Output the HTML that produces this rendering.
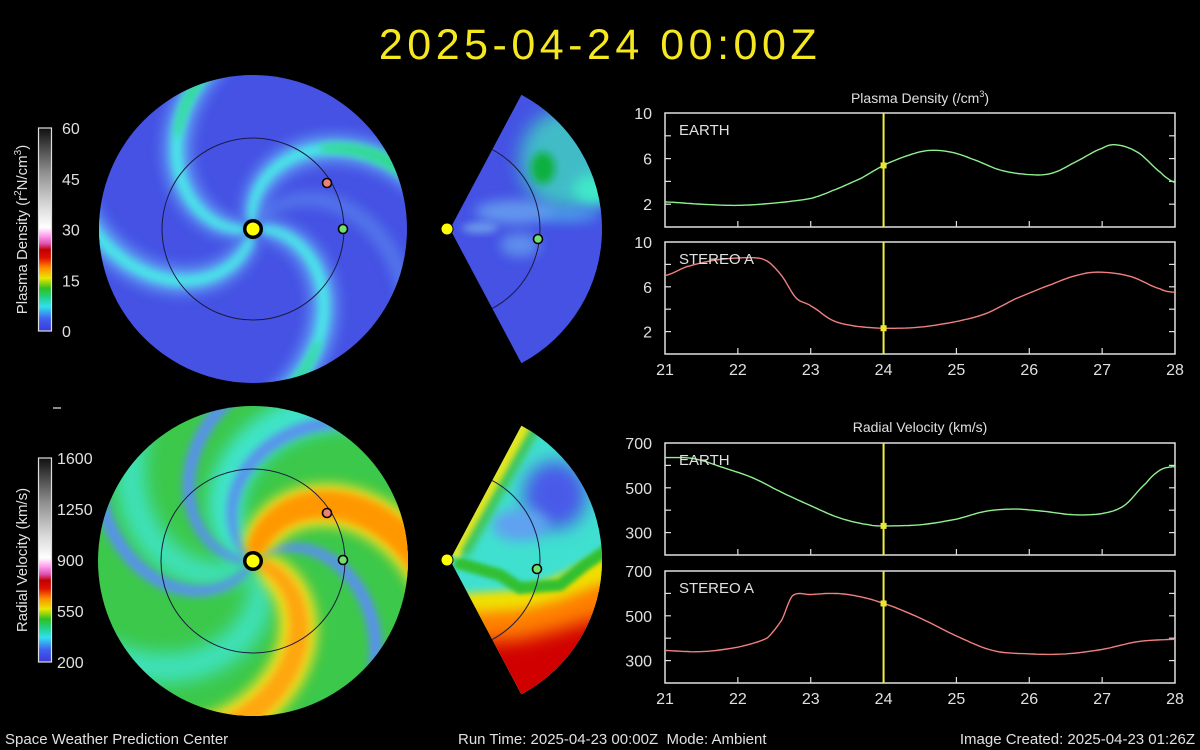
<!DOCTYPE html>
<html><head><meta charset="utf-8">
<style>
html,body{margin:0;padding:0;background:#000;}
body{width:1200px;height:750px;overflow:hidden;position:relative;font-family:"Liberation Sans",sans-serif;}
svg{position:absolute;left:0;top:0;}
</style></head>
<body>
<svg id="s" width="1200" height="750" viewBox="0 0 1200 750">
<defs>
<filter id="b2" x="-50%" y="-50%" width="200%" height="200%"><feGaussianBlur stdDeviation="2"/></filter>
<filter id="b4" x="-50%" y="-50%" width="200%" height="200%"><feGaussianBlur stdDeviation="4"/></filter>
<filter id="b6" x="-50%" y="-50%" width="200%" height="200%"><feGaussianBlur stdDeviation="6"/></filter>
<filter id="b9" x="-50%" y="-50%" width="200%" height="200%"><feGaussianBlur stdDeviation="9"/></filter>
<clipPath id="cD"><circle cx="253" cy="229" r="154"/></clipPath>
<clipPath id="cV"><circle cx="253" cy="561" r="155"/></clipPath>
<clipPath id="wD"><path id="wDp" d=""/></clipPath>
<clipPath id="wV"><path id="wVp" d=""/></clipPath>
<linearGradient id="cb" x1="0" y1="1" x2="0" y2="0">
<stop offset="0" stop-color="#3a3ad8"/><stop offset="0.06" stop-color="#4060f0"/>
<stop offset="0.12" stop-color="#30e0f0"/><stop offset="0.17" stop-color="#20d080"/>
<stop offset="0.21" stop-color="#30c020"/><stop offset="0.26" stop-color="#e8e800"/>
<stop offset="0.31" stop-color="#ff9000"/><stop offset="0.36" stop-color="#e01000"/>
<stop offset="0.40" stop-color="#c00000"/><stop offset="0.43" stop-color="#e050b0"/>
<stop offset="0.47" stop-color="#ffa0f0"/><stop offset="0.51" stop-color="#ffffff"/>
<stop offset="0.62" stop-color="#d8d8d8"/><stop offset="0.78" stop-color="#909090"/>
<stop offset="1" stop-color="#101010"/>
</linearGradient>
</defs>
<g id="g"></g>
</svg>
<script>
function P(cx,cy,r,d){const a=d*Math.PI/180;return [cx+r*Math.cos(a),cy+r*Math.sin(a)];}
function f(p){return p[0].toFixed(1)+','+p[1].toFixed(1);}
function arm(cx,cy,t0,k,r0,r1,w0,w1,fill,filt,op){
 let L=[],R=[];
 for(let r=r0;r<=r1;r+=3){const w=w0+(w1-w0)*(r-r0)/(r1-r0);const th=t0+k*r;let d=Math.min(w/2/r,0.7)*180/Math.PI;L.push(P(cx,cy,r,th-d));R.push(P(cx,cy,r,th+d));}
 return `<polygon points="${L.concat(R.reverse()).map(f).join(' ')}" fill="${fill}" filter="url(#${filt})" opacity="${op||1}"/>`;
}
function wedge(cx,cy,R,a0,a1){const p0=P(cx,cy,R,a0),p1=P(cx,cy,R,a1);return `M${cx},${cy} L${f(p0)} A${R},${R} 0 0 1 ${f(p1)} Z`;}
document.getElementById('wDp').setAttribute('d',wedge(450,229,152,-62,62));
document.getElementById('wVp').setAttribute('d',wedge(450,560,152,-62,62));
function dot(x,y,c,r){return `<circle cx="${x}" cy="${y}" r="${r||4.5}" fill="${c}" stroke="#000" stroke-width="1.6"/>`;}
function sun(x,y,big){return big?`<circle cx="${x}" cy="${y}" r="10" fill="#000"/><circle cx="${x}" cy="${y}" r="6.5" fill="#ffff00"/>`:`<circle cx="${x}" cy="${y}" r="6.5" fill="#000"/><circle cx="${x}" cy="${y}" r="5.5" fill="#ffff00"/>`;}
let h='';
h+=`<text x="600" y="59" text-anchor="middle" font-size="43" fill="#f5e820" letter-spacing="4.5" font-family="Liberation Sans, sans-serif">2025-04-24 00:00Z</text>`;
// density disk
let cx=253,cy=229;
h+=`<g clip-path="url(#cD)"><rect x="90" y="70" width="330" height="320" fill="#4552e4"/>`;
h+=arm(cx,cy,-60,0.5,10,175,10,30,'#5a86ee','b6',0.7);
for(const t of [-5,-102,171,100]){h+=arm(cx,cy,t,0.5,8,178,20,55,'#5c92f2','b6');}
for(const t of [-5,-102,171,100]){h+=arm(cx,cy,t,0.5,8,178,8,22,'#48e6e8','b4');}
h+=arm(cx,cy,-102,0.5,105,178,10,30,'#30d890','b4');
h+=arm(cx,cy,171,0.5,120,178,8,22,'#30d890','b4');
h+=arm(cx,cy,-5,0.5,130,178,8,20,'#30d890','b4');
h+=`</g><circle cx="${cx}" cy="${cy}" r="91" fill="none" stroke="#1a1a40" stroke-width="1"/>`;
h+=dot(343,229,'#70e070')+dot(327,183,'#f08070')+sun(cx,cy,1);
// density wedge
h+=`<g clip-path="url(#wD)"><rect x="440" y="70" width="170" height="320" fill="#4552e4"/>
<ellipse cx="565" cy="160" rx="45" ry="50" fill="#40d8c0" filter="url(#b9)" opacity="0.8"/>
<ellipse cx="595" cy="190" rx="22" ry="16" fill="#40e8c8" filter="url(#b6)"/>
<ellipse cx="543" cy="168" rx="12" ry="16" fill="#10b040" filter="url(#b4)"/>
<ellipse cx="515" cy="212" rx="40" ry="12" fill="#6aa8f0" filter="url(#b6)" opacity="0.8"/>
<ellipse cx="520" cy="245" rx="20" ry="12" fill="#6aa8f0" filter="url(#b6)" opacity="0.7"/>
<ellipse cx="480" cy="228" rx="18" ry="5" fill="#80c0f0" filter="url(#b4)" opacity="0.7"/>
<ellipse cx="570" cy="215" rx="30" ry="8" fill="#50b0f0" filter="url(#b6)" opacity="0.6"/>
<circle cx="450" cy="229" r="90" fill="none" stroke="#1a1a40" stroke-width="1"/></g>`;
h+=dot(538,239,'#70e070')+sun(447,229,0);
// velocity disk
cx=253;cy=561;
h+=`<g clip-path="url(#cV)"><rect x="90" y="400" width="330" height="330" fill="#3cc84a"/>`;
for(const t of [140,215,-150,60]){h+=arm(cx,cy,t,0.5,10,178,20,55,'#40e6d0','b9',0.85);}
for(const t of [-40,180,120,-140]){h+=arm(cx,cy,t,0.5,8,178,6,24,'#5a90f0','b4');}
h+=arm(cx,cy,-84,0.5,8,178,30,80,'#f0e020','b6');
h+=arm(cx,cy,-84,0.5,8,178,18,55,'#ff9800','b4');
h+=arm(cx,cy,15,0.5,8,178,28,72,'#f0e020','b6');
h+=arm(cx,cy,15,0.5,8,178,12,40,'#ffa010','b4',0.9);
h+=`</g><circle cx="${cx}" cy="${cy}" r="92" fill="none" stroke="#1a1a40" stroke-width="1"/>`;
h+=dot(343,560,'#70e070')+dot(327,513,'#f08070')+sun(cx,cy,1);
// velocity wedge
h+=`<g clip-path="url(#wV)"><rect x="440" y="400" width="170" height="330" fill="#40e0d0"/>
<ellipse cx="555" cy="495" rx="32" ry="34" fill="#4a5ae8" filter="url(#b9)"/>
<ellipse cx="520" cy="525" rx="28" ry="16" fill="#60a0f0" filter="url(#b6)"/>
<polygon points="440,595 520,590 560,575 610,550 610,720 440,720" fill="#f0e000" filter="url(#b4)"/>
<polygon points="440,615 520,610 560,600 610,580 610,720 440,720" fill="#ff8000" filter="url(#b6)"/>
<polygon points="440,645 520,640 560,630 610,615 610,720 440,720" fill="#d00000" filter="url(#b9)"/>
<polyline points="455,562 500,575 520,588 560,585 585,565 610,548" fill="none" stroke="#30c030" stroke-width="12" filter="url(#b2)"/>
<line x1="452" y1="555" x2="528" y2="420" stroke="#e8e820" stroke-width="16" filter="url(#b2)"/>
<line x1="464" y1="555" x2="540" y2="420" stroke="#40c040" stroke-width="8" filter="url(#b4)"/>
<circle cx="450" cy="560" r="90" fill="none" stroke="#1a1a40" stroke-width="1"/></g>`;
h+=dot(537,569,'#70e070')+sun(447,560,0);
function cbar(y0,y1,labels,title,tx){
 let s=`<rect x="38.5" y="${y0}" width="13" height="${y1-y0}" fill="url(#cb)" stroke="#ddd" stroke-width="1.2"/>`;
 labels.forEach((l,i)=>{const y=y0+(y1-y0)*i/4;s+=`<text x="${tx}" y="${y+6}" font-size="16" fill="#e0e0e0">${l}</text>`;});
 s+=`<text transform="translate(27,${(y0+y1)/2}) rotate(-90)" text-anchor="middle" font-size="15" fill="#e0e0e0">${title}</text>`;
 return s;
}
h+=cbar(128,331,['60','45','30','15','0'],'Plasma Density (r<tspan font-size="10" dy="-6">2</tspan><tspan dy="6">N/cm</tspan><tspan font-size="10" dy="-6">3</tspan><tspan dy="6">)</tspan>',62);
h+=cbar(458,662,['1600','1250','900','550','200'],'Radial Velocity (km/s)',57);
h+=`<line x1="53" y1="408" x2="61" y2="408" stroke="#bbb" stroke-width="1.5"/>`;
const X0=665,X1=1175;
function xm(d){return X0+(d-21)*(X1-X0)/7;}
function cr(pts){
 let out=[];
 for(let i=0;i<pts.length-1;i++){const p0=pts[Math.max(0,i-1)],p1=pts[i],p2=pts[i+1],p3=pts[Math.min(pts.length-1,i+2)];
  for(let t=0;t<1;t+=0.1){const t2=t*t,t3=t2*t;
   const v=0.5*((2*p1[1])+(-p0[1]+p2[1])*t+(2*p0[1]-5*p1[1]+4*p2[1]-p3[1])*t2+(-p0[1]+3*p1[1]-3*p2[1]+p3[1])*t3);
   out.push([p1[0]+(p2[0]-p1[0])*t,v]);}}
 out.push(pts[pts.length-1]);return out;}
function interp(pts,d){for(let i=0;i<pts.length-1;i++){if(d>=pts[i][0]&&d<=pts[i+1][0]){const t=(d-pts[i][0])/(pts[i+1][0]-pts[i][0]);return pts[i][1]+t*(pts[i+1][1]-pts[i][1]);}}return pts[pts.length-1][1];}
function panel(yt,yb,lo,hi,ticks,labs,data,color,name,xl){
 let s=`<rect x="${X0}" y="${yt}" width="${X1-X0}" height="${yb-yt}" fill="none" stroke="#e0e0e0" stroke-width="1.5"/>`;
 const ym=v=>yb-(v-lo)/(hi-lo)*(yb-yt);
 ticks.forEach(v=>{const y=ym(v);s+=`<line x1="${X0}" y1="${y}" x2="${X0+6}" y2="${y}" stroke="#e0e0e0" stroke-width="1.2"/><line x1="${X1-6}" y1="${y}" x2="${X1}" y2="${y}" stroke="#e0e0e0" stroke-width="1.2"/>`;});
 labs.forEach(v=>{s+=`<text x="652" y="${ym(v)+6}" text-anchor="end" font-size="16" fill="#e0e0e0">${v}</text>`;});
 s+=`<text x="652" y="${yt+6}" text-anchor="end" font-size="16" fill="#e0e0e0">${hi}</text>`;
 for(let d=22;d<=27;d++){const x=xm(d);s+=`<line x1="${x}" y1="${yb}" x2="${x}" y2="${yb-6}" stroke="#e0e0e0" stroke-width="1.2"/>`;}
 const sm=cr(data);
 s+=`<polyline points="${sm.map(p=>xm(p[0]).toFixed(1)+','+ym(p[1]).toFixed(1)).join(' ')}" fill="none" stroke="${color}" stroke-width="1.4"/>`;
 s+=`<text x="679" y="${yt+22}" font-size="15" fill="#e0e0e0">${name}</text>`;
 const xv=xm(24);
 s+=`<line x1="${xv}" y1="${yt}" x2="${xv}" y2="${yb}" stroke="#f0f040" stroke-width="2"/>`;
 const yv=ym(interp(sm,24));
 s+=`<rect x="${xv-3}" y="${yv-3}" width="6" height="6" fill="#e8e830"/>`;
 if(xl){for(let d=21;d<=28;d++){s+=`<text x="${xm(d)}" y="${yb+21}" text-anchor="middle" font-size="16" fill="#e0e0e0">${d}</text>`;}}
 return s;
}
const eD=[[21,2.2],[21.5,2.0],[22,1.9],[22.5,2.1],[23,2.5],[23.3,3.2],[23.7,4.3],[24,5.4],[24.3,6.2],[24.6,6.7],[24.9,6.6],[25.2,6.0],[25.6,5.0],[26,4.6],[26.3,4.7],[26.6,5.6],[27,6.9],[27.2,7.2],[27.5,6.5],[27.8,4.8],[28,3.9]];
const sD=[[21,7.0],[21.3,7.8],[21.7,8.4],[22.2,8.6],[22.4,8.3],[22.6,7.0],[22.8,5.0],[23.0,4.3],[23.3,3.0],[23.6,2.5],[24,2.3],[24.5,2.4],[25,2.9],[25.4,3.6],[25.8,4.9],[26.3,6.2],[26.7,7.1],[27,7.3],[27.4,6.9],[27.8,5.8],[28,5.5]];
const eV=[[21,635],[21.4,630],[21.8,590],[22.2,545],[22.6,480],[23,420],[23.4,365],[23.8,335],[24,330],[24.5,335],[25,360],[25.4,395],[25.8,405],[26.2,395],[26.6,380],[27,385],[27.3,420],[27.6,520],[27.8,580],[28,595]];
const sV=[[21,345],[21.5,340],[22,360],[22.4,400],[22.6,480],[22.75,590],[23,595],[23.3,600],[23.6,590],[24,555],[24.5,490],[25,410],[25.5,345],[26,330],[26.5,330],[27,350],[27.5,385],[28,395]];
h+=`<text x="920" y="103" text-anchor="middle" font-size="14" fill="#e0e0e0">Plasma Density (/cm<tspan font-size="9" dy="-6">3</tspan><tspan dy="6">)</tspan></text>`;
h+=panel(113,227,0,10,[2,4,6,8],[2,6],eD,'#90f090','EARTH',false);
h+=panel(242,354,0,10,[2,4,6,8],[2,6],sD,'#f08080','STEREO A',true);
h+=`<text x="920" y="432" text-anchor="middle" font-size="14" fill="#e0e0e0">Radial Velocity (km/s)</text>`;
h+=panel(443,555,200,700,[300,400,500,600],[300,500],eV,'#90f090','EARTH',false);
h+=panel(571,683,200,700,[300,400,500,600],[300,500],sV,'#f08080','STEREO A',true);
h+=`<text x="5" y="744" font-size="15" fill="#e0e0e0">Space Weather Prediction Center</text>`;
h+=`<text x="458" y="744" font-size="15" fill="#e0e0e0">Run Time: 2025-04-23 00:00Z&#160;&#160;Mode: Ambient</text>`;
h+=`<text x="1195" y="744" text-anchor="end" font-size="15" fill="#e0e0e0">Image Created: 2025-04-23 01:26Z</text>`;
document.getElementById('g').innerHTML=h;
</script>
</body></html>
